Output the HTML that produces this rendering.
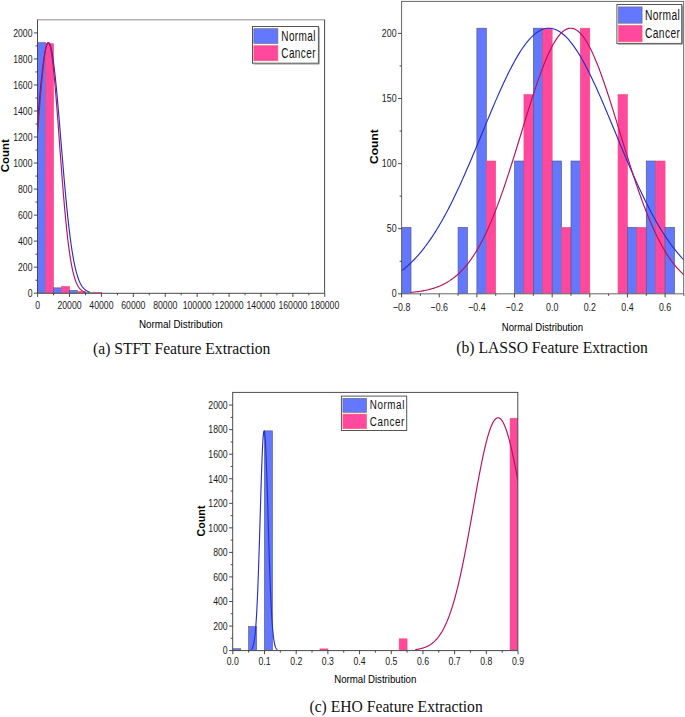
<!DOCTYPE html>
<html><head><meta charset="utf-8"><title>Feature Extraction Histograms</title>
<style>html,body{margin:0;padding:0;background:#fff}svg{display:block}</style></head>
<body><svg width="685" height="717" viewBox="0 0 685 717">
<rect width="685" height="717" fill="#fff"/>
<clipPath id="cpa"><rect x="37.5" y="19.8" width="287.1" height="273.5"/></clipPath>
<g clip-path="url(#cpa)">
<rect x="37.6" y="42.66" width="7.98" height="250.54" fill="#6378FF" stroke="#4a4f78" stroke-width="0.6"/>
<rect x="45.58" y="43.7" width="7.98" height="249.5" fill="#FF489E" stroke="#f0506a" stroke-width="0.6"/>
<rect x="53.55" y="287.86" width="7.98" height="5.34" fill="#6378FF" stroke="#4a4f78" stroke-width="0.6"/>
<rect x="61.53" y="286.43" width="7.98" height="6.77" fill="#FF489E" stroke="#f0506a" stroke-width="0.6"/>
<rect x="69.51" y="290.6" width="7.98" height="2.6" fill="#6378FF" stroke="#4a4f78" stroke-width="0.6"/>
<rect x="77.49" y="291.38" width="7.98" height="1.82" fill="#FF489E" stroke="#f0506a" stroke-width="0.6"/>
<rect x="85.47" y="292.81" width="7.98" height="0.39" fill="#6378FF" stroke="#4a4f78" stroke-width="0.6"/>
<rect x="93.44" y="292.29" width="7.98" height="0.91" fill="#FF489E" stroke="#f0506a" stroke-width="0.6"/>
<polyline points="37.6,121.04 37.82,118.46 38.03,115.89 38.25,113.34 38.47,110.81 38.69,108.3 38.9,105.81 39.12,103.34 39.34,100.9 39.56,98.48 39.77,96.1 39.99,93.75 40.21,91.42 40.43,89.14 40.64,86.89 40.86,84.67 41.08,82.5 41.3,80.37 41.51,78.28 41.73,76.24 41.95,74.24 42.17,72.29 42.38,70.4 42.6,68.55 42.82,66.75 43.03,65.01 43.25,63.33 43.47,61.7 43.69,60.14 43.9,58.63 44.12,57.18 44.34,55.8 44.56,54.48 44.77,53.22 44.99,52.03 45.21,50.91 45.43,49.86 45.64,48.87 45.86,47.96 46.08,47.11 46.3,46.34 46.51,45.64 46.73,45.01 46.95,44.46 47.17,43.98 47.38,43.57 47.6,43.24 47.82,42.98 48.03,42.8 48.25,42.69 48.47,42.66 48.69,42.71 48.9,42.83 49.12,43.02 49.34,43.29 49.56,43.64 49.77,44.06 49.99,44.55 50.21,45.12 50.43,45.76 50.64,46.48 50.86,47.26 51.08,48.12 51.3,49.05 51.51,50.04 51.73,51.11 51.95,52.25 52.16,53.45 52.38,54.71 52.6,56.05 52.82,57.44 53.03,58.9 53.25,60.42 53.47,62 53.69,63.63 53.9,65.33 54.12,67.08 54.34,68.88 54.56,70.74 54.77,72.65 54.99,74.61 55.21,76.61 55.43,78.66 55.64,80.76 55.86,82.9 56.08,85.08 56.3,87.3 56.51,89.55 56.73,91.85 56.95,94.18 57.16,96.53 57.38,98.93 57.6,101.34 57.82,103.79 58.03,106.26 58.25,108.76 58.47,111.27 58.69,113.81 58.9,116.36 59.12,118.93 59.34,121.51 59.56,124.11 59.77,126.72 59.99,129.34 60.21,131.96 60.43,134.59 60.64,137.22 60.86,139.86 61.08,142.5 61.3,145.14 61.51,147.77 61.73,150.4 61.95,153.03 62.16,155.64 62.38,158.25 62.6,160.85 62.82,163.44 63.03,166.02 63.25,168.58 63.47,171.13 63.69,173.67 63.9,176.18 64.12,178.68 64.34,181.15 64.56,183.61 64.77,186.05 64.99,188.46 65.21,190.85 65.43,193.21 65.64,195.55 65.86,197.87 66.08,200.15 66.3,202.41 66.51,204.64 66.73,206.85 66.95,209.02 67.16,211.16 67.38,213.27 67.6,215.35 67.82,217.4 68.03,219.42 68.25,221.41 68.47,223.36 68.69,225.28 68.9,227.17 69.12,229.03 69.34,230.85 69.56,232.64 69.77,234.39 69.99,236.11 70.21,237.8 70.43,239.45 70.64,241.07 70.86,242.66 71.08,244.21 71.29,245.73 71.51,247.22 71.73,248.67 71.95,250.09 72.16,251.48 72.38,252.83 72.6,254.16 72.82,255.45 73.03,256.71 73.25,257.93 73.47,259.13 73.69,260.3 73.9,261.43 74.12,262.54 74.34,263.61 74.56,264.66 74.77,265.68 74.99,266.67 75.21,267.63 75.43,268.57 75.64,269.47 75.86,270.35 76.08,271.21 76.29,272.04 76.51,272.84 76.73,273.62 76.95,274.38 77.16,275.11 77.38,275.82 77.6,276.5 77.82,277.17 78.03,277.81 78.25,278.43 78.47,279.03 78.69,279.61 78.9,280.17 79.12,280.71 79.34,281.23 79.56,281.73 79.77,282.22 79.99,282.69 80.21,283.14 80.43,283.57 80.64,283.99 80.86,284.39 81.08,284.78 81.29,285.16 81.51,285.51 81.73,285.86 81.95,286.19 82.16,286.51 82.38,286.82 82.6,287.11 82.82,287.39 83.03,287.66 83.25,287.92 83.47,288.17 83.69,288.41 83.9,288.64 84.12,288.86 84.34,289.07 84.56,289.27 84.77,289.46 84.99,289.65 85.21,289.82 85.43,289.99 85.64,290.15 85.86,290.31 86.08,290.45 86.29,290.59 86.51,290.73 86.73,290.85 86.95,290.98 87.16,291.09 87.38,291.2 87.6,291.31 87.82,291.41 88.03,291.5 88.25,291.59 88.47,291.68 88.69,291.76 88.9,291.84 89.12,291.91 89.34,291.99 89.56,292.05 89.77,292.12" fill="none" stroke="#2630C8" stroke-width="1.15" stroke-linejoin="round"/>
<polyline points="37.6,133.65 37.8,130.96 38,128.28 38.19,125.61 38.39,122.95 38.59,120.3 38.79,117.67 38.99,115.05 39.18,112.45 39.38,109.87 39.58,107.31 39.78,104.78 39.98,102.27 40.18,99.78 40.37,97.33 40.57,94.91 40.77,92.52 40.97,90.17 41.17,87.85 41.36,85.57 41.56,83.34 41.76,81.14 41.96,78.99 42.16,76.89 42.35,74.83 42.55,72.83 42.75,70.87 42.95,68.97 43.15,67.13 43.35,65.34 43.54,63.61 43.74,61.93 43.94,60.32 44.14,58.78 44.34,57.29 44.53,55.87 44.73,54.52 44.93,53.24 45.13,52.02 45.33,50.88 45.52,49.8 45.72,48.8 45.92,47.87 46.12,47.02 46.32,46.24 46.51,45.53 46.71,44.9 46.91,44.35 47.11,43.88 47.31,43.48 47.51,43.16 47.7,42.92 47.9,42.76 48.1,42.67 48.3,42.67 48.5,42.74 48.69,42.9 48.89,43.13 49.09,43.44 49.29,43.83 49.49,44.29 49.68,44.84 49.88,45.46 50.08,46.15 50.28,46.92 50.48,47.77 50.68,48.69 50.87,49.68 51.07,50.75 51.27,51.89 51.47,53.09 51.67,54.37 51.86,55.72 52.06,57.13 52.26,58.6 52.46,60.14 52.66,61.75 52.85,63.41 53.05,65.14 53.25,66.92 53.45,68.76 53.65,70.65 53.84,72.6 54.04,74.6 54.24,76.65 54.44,78.75 54.64,80.89 54.84,83.08 55.03,85.32 55.23,87.59 55.43,89.9 55.63,92.25 55.83,94.63 56.02,97.05 56.22,99.5 56.42,101.98 56.62,104.49 56.82,107.02 57.01,109.58 57.21,112.16 57.41,114.75 57.61,117.37 57.81,120 58.01,122.65 58.2,125.31 58.4,127.98 58.6,130.66 58.8,133.34 59,136.03 59.19,138.73 59.39,141.42 59.59,144.12 59.79,146.81 59.99,149.5 60.18,152.18 60.38,154.86 60.58,157.53 60.78,160.19 60.98,162.84 61.17,165.48 61.37,168.1 61.57,170.71 61.77,173.3 61.97,175.87 62.17,178.43 62.36,180.96 62.56,183.47 62.76,185.96 62.96,188.43 63.16,190.87 63.35,193.29 63.55,195.68 63.75,198.04 63.95,200.37 64.15,202.68 64.34,204.95 64.54,207.2 64.74,209.42 64.94,211.6 65.14,213.75 65.34,215.87 65.53,217.96 65.73,220.01 65.93,222.03 66.13,224.02 66.33,225.97 66.52,227.89 66.72,229.77 66.92,231.62 67.12,233.43 67.32,235.21 67.51,236.95 67.71,238.66 67.91,240.33 68.11,241.96 68.31,243.57 68.5,245.13 68.7,246.66 68.9,248.16 69.1,249.62 69.3,251.05 69.5,252.45 69.69,253.81 69.89,255.14 70.09,256.43 70.29,257.69 70.49,258.92 70.68,260.12 70.88,261.28 71.08,262.42 71.28,263.52 71.48,264.59 71.67,265.63 71.87,266.65 72.07,267.63 72.27,268.58 72.47,269.51 72.67,270.41 72.86,271.28 73.06,272.13 73.26,272.94 73.46,273.74 73.66,274.51 73.85,275.25 74.05,275.97 74.25,276.66 74.45,277.34 74.65,277.99 74.84,278.61 75.04,279.22 75.24,279.81 75.44,280.37 75.64,280.92 75.83,281.44 76.03,281.95 76.23,282.44 76.43,282.91 76.63,283.36 76.83,283.79 77.02,284.21 77.22,284.62 77.42,285 77.62,285.38 77.82,285.74 78.01,286.08 78.21,286.41 78.41,286.73 78.61,287.03 78.81,287.32 79,287.6 79.2,287.87 79.4,288.13 79.6,288.37 79.8,288.61 80,288.83 80.19,289.05 80.39,289.26 80.59,289.45 80.79,289.64 80.99,289.82 81.18,289.99 81.38,290.16 81.58,290.31 81.78,290.46 81.98,290.61 82.17,290.74 82.37,290.87 82.57,290.99 82.77,291.11 82.97,291.22 83.16,291.33 83.36,291.43 83.56,291.53 83.76,291.62 83.96,291.71 84.16,291.79 84.35,291.87 84.55,291.94 84.75,292.01 84.95,292.08 85.15,292.14" fill="none" stroke="#B8105F" stroke-width="1.15" stroke-linejoin="round"/>
</g>
<path d="M37 19.8H325.1" stroke="#8c8c8c" stroke-width="1" fill="none"/>
<path d="M324.6 19.8V293.3H37.5V19.8" stroke="#4a4a4a" stroke-width="1" fill="none"/>
<path d="M37.6 293.3v3.6M69.51 293.3v3.6M101.42 293.3v3.6M133.33 293.3v3.6M165.24 293.3v3.6M197.15 293.3v3.6M229.06 293.3v3.6M260.97 293.3v3.6M292.88 293.3v3.6M324.79 293.3v3.6M53.55 293.3v2M85.47 293.3v2M117.38 293.3v2M149.28 293.3v2M181.19 293.3v2M213.1 293.3v2M245.01 293.3v2M276.93 293.3v2M308.84 293.3v2M37.5 293.2h-3.6M37.5 267.17h-3.6M37.5 241.14h-3.6M37.5 215.11h-3.6M37.5 189.08h-3.6M37.5 163.05h-3.6M37.5 137.02h-3.6M37.5 110.99h-3.6M37.5 84.96h-3.6M37.5 58.93h-3.6M37.5 32.9h-3.6M37.5 280.19h-2M37.5 254.16h-2M37.5 228.12h-2M37.5 202.09h-2M37.5 176.06h-2M37.5 150.03h-2M37.5 124h-2M37.5 97.97h-2M37.5 71.95h-2M37.5 45.92h-2" stroke="#333" stroke-width="0.9" fill="none"/>
<text transform="translate(37.6,309.1) scale(0.775,1)" font-family="'Liberation Sans',Arial,sans-serif" font-size="11.2" font-weight="normal" text-anchor="middle" fill="#1a1a1a">0</text>
<text transform="translate(69.51,309.1) scale(0.775,1)" font-family="'Liberation Sans',Arial,sans-serif" font-size="11.2" font-weight="normal" text-anchor="middle" fill="#1a1a1a">20000</text>
<text transform="translate(101.42,309.1) scale(0.775,1)" font-family="'Liberation Sans',Arial,sans-serif" font-size="11.2" font-weight="normal" text-anchor="middle" fill="#1a1a1a">40000</text>
<text transform="translate(133.33,309.1) scale(0.775,1)" font-family="'Liberation Sans',Arial,sans-serif" font-size="11.2" font-weight="normal" text-anchor="middle" fill="#1a1a1a">60000</text>
<text transform="translate(165.24,309.1) scale(0.775,1)" font-family="'Liberation Sans',Arial,sans-serif" font-size="11.2" font-weight="normal" text-anchor="middle" fill="#1a1a1a">80000</text>
<text transform="translate(197.15,309.1) scale(0.775,1)" font-family="'Liberation Sans',Arial,sans-serif" font-size="11.2" font-weight="normal" text-anchor="middle" fill="#1a1a1a">100000</text>
<text transform="translate(229.06,309.1) scale(0.775,1)" font-family="'Liberation Sans',Arial,sans-serif" font-size="11.2" font-weight="normal" text-anchor="middle" fill="#1a1a1a">120000</text>
<text transform="translate(260.97,309.1) scale(0.775,1)" font-family="'Liberation Sans',Arial,sans-serif" font-size="11.2" font-weight="normal" text-anchor="middle" fill="#1a1a1a">140000</text>
<text transform="translate(292.88,309.1) scale(0.775,1)" font-family="'Liberation Sans',Arial,sans-serif" font-size="11.2" font-weight="normal" text-anchor="middle" fill="#1a1a1a">160000</text>
<text transform="translate(324.79,309.1) scale(0.775,1)" font-family="'Liberation Sans',Arial,sans-serif" font-size="11.2" font-weight="normal" text-anchor="middle" fill="#1a1a1a">180000</text>
<text transform="translate(32.5,297.1) scale(0.775,1)" font-family="'Liberation Sans',Arial,sans-serif" font-size="11.2" font-weight="normal" text-anchor="end" fill="#1a1a1a">0</text>
<text transform="translate(32.5,271.07) scale(0.775,1)" font-family="'Liberation Sans',Arial,sans-serif" font-size="11.2" font-weight="normal" text-anchor="end" fill="#1a1a1a">200</text>
<text transform="translate(32.5,245.04) scale(0.775,1)" font-family="'Liberation Sans',Arial,sans-serif" font-size="11.2" font-weight="normal" text-anchor="end" fill="#1a1a1a">400</text>
<text transform="translate(32.5,219.01) scale(0.775,1)" font-family="'Liberation Sans',Arial,sans-serif" font-size="11.2" font-weight="normal" text-anchor="end" fill="#1a1a1a">600</text>
<text transform="translate(32.5,192.98) scale(0.775,1)" font-family="'Liberation Sans',Arial,sans-serif" font-size="11.2" font-weight="normal" text-anchor="end" fill="#1a1a1a">800</text>
<text transform="translate(32.5,166.95) scale(0.775,1)" font-family="'Liberation Sans',Arial,sans-serif" font-size="11.2" font-weight="normal" text-anchor="end" fill="#1a1a1a">1000</text>
<text transform="translate(32.5,140.92) scale(0.775,1)" font-family="'Liberation Sans',Arial,sans-serif" font-size="11.2" font-weight="normal" text-anchor="end" fill="#1a1a1a">1200</text>
<text transform="translate(32.5,114.89) scale(0.775,1)" font-family="'Liberation Sans',Arial,sans-serif" font-size="11.2" font-weight="normal" text-anchor="end" fill="#1a1a1a">1400</text>
<text transform="translate(32.5,88.86) scale(0.775,1)" font-family="'Liberation Sans',Arial,sans-serif" font-size="11.2" font-weight="normal" text-anchor="end" fill="#1a1a1a">1600</text>
<text transform="translate(32.5,62.83) scale(0.775,1)" font-family="'Liberation Sans',Arial,sans-serif" font-size="11.2" font-weight="normal" text-anchor="end" fill="#1a1a1a">1800</text>
<text transform="translate(32.5,36.8) scale(0.775,1)" font-family="'Liberation Sans',Arial,sans-serif" font-size="11.2" font-weight="normal" text-anchor="end" fill="#1a1a1a">2000</text>
<text transform="translate(180.85,328.2) scale(0.873,1)" font-family="'Liberation Sans',Arial,sans-serif" font-size="11.3" font-weight="normal" text-anchor="middle" fill="#000">Normal Distribution</text>
<text transform="translate(9,155.8) rotate(-90) scale(1.09,1)" font-family="'Liberation Sans',Arial,sans-serif" font-size="10.5" font-weight="bold" text-anchor="middle" fill="#000">Count</text>
<text transform="translate(181.75,354)" font-family="'Liberation Serif','Times New Roman',serif" font-size="15.65" font-weight="normal" text-anchor="middle" fill="#111">(a) STFT Feature Extraction</text>
<rect x="252.5" y="26.5" width="65.9" height="36.7" fill="#fff" stroke="#555" stroke-width="1"/>
<path d="M319.2 27.5V64H253.5" stroke="#777" stroke-width="0.8" fill="none"/>
<rect x="253.8" y="28.7" width="24.1" height="14.8" fill="#6378FF" stroke="#667" stroke-width="0.6"/>
<rect x="253.8" y="45.6" width="24.1" height="15.2" fill="#FF489E" stroke="#f66" stroke-width="0.6"/>
<text transform="translate(281.3,40.7) scale(0.715,1)" font-family="'Liberation Sans',Arial,sans-serif" font-size="14" font-weight="normal" text-anchor="start" fill="#111" letter-spacing="0.55">Normal</text>
<text transform="translate(281.3,57.5) scale(0.715,1)" font-family="'Liberation Sans',Arial,sans-serif" font-size="14" font-weight="normal" text-anchor="start" fill="#111" letter-spacing="0.55">Cancer</text>
<clipPath id="cpb"><rect x="401.6" y="1.4" width="282.1" height="292.4"/></clipPath>
<g clip-path="url(#cpb)">
<rect x="401.6" y="227.4" width="9.41" height="66.4" fill="#6378FF" stroke="#4a4f78" stroke-width="0.6"/>
<rect x="458.06" y="227.4" width="9.41" height="66.4" fill="#6378FF" stroke="#4a4f78" stroke-width="0.6"/>
<rect x="476.88" y="28.19" width="9.41" height="265.61" fill="#6378FF" stroke="#4a4f78" stroke-width="0.6"/>
<rect x="486.29" y="161" width="9.41" height="132.8" fill="#FF489E" stroke="#f0506a" stroke-width="0.6"/>
<rect x="514.52" y="161" width="9.41" height="132.8" fill="#6378FF" stroke="#4a4f78" stroke-width="0.6"/>
<rect x="523.93" y="94.59" width="9.41" height="199.21" fill="#FF489E" stroke="#f0506a" stroke-width="0.6"/>
<rect x="533.34" y="28.19" width="9.41" height="265.61" fill="#6378FF" stroke="#4a4f78" stroke-width="0.6"/>
<rect x="542.75" y="28.19" width="9.41" height="265.61" fill="#FF489E" stroke="#f0506a" stroke-width="0.6"/>
<rect x="552.16" y="161" width="9.41" height="132.8" fill="#6378FF" stroke="#4a4f78" stroke-width="0.6"/>
<rect x="561.57" y="227.4" width="9.41" height="66.4" fill="#FF489E" stroke="#f0506a" stroke-width="0.6"/>
<rect x="570.98" y="161" width="9.41" height="132.8" fill="#6378FF" stroke="#4a4f78" stroke-width="0.6"/>
<rect x="580.39" y="28.19" width="9.41" height="265.61" fill="#FF489E" stroke="#f0506a" stroke-width="0.6"/>
<rect x="618.03" y="94.59" width="9.41" height="199.21" fill="#FF489E" stroke="#f0506a" stroke-width="0.6"/>
<rect x="627.44" y="227.4" width="9.41" height="66.4" fill="#6378FF" stroke="#4a4f78" stroke-width="0.6"/>
<rect x="636.85" y="227.4" width="9.41" height="66.4" fill="#FF489E" stroke="#f0506a" stroke-width="0.6"/>
<rect x="646.26" y="161" width="9.41" height="132.8" fill="#6378FF" stroke="#4a4f78" stroke-width="0.6"/>
<rect x="655.67" y="161" width="9.41" height="132.8" fill="#FF489E" stroke="#f0506a" stroke-width="0.6"/>
<rect x="665.08" y="227.4" width="9.41" height="66.4" fill="#6378FF" stroke="#4a4f78" stroke-width="0.6"/>
<polyline points="401.6,270.85 402.79,269.92 403.98,268.97 405.18,267.99 406.37,266.97 407.56,265.93 408.75,264.85 409.94,263.74 411.14,262.6 412.33,261.43 413.52,260.23 414.71,258.99 415.9,257.71 417.1,256.4 418.29,255.06 419.48,253.68 420.67,252.26 421.86,250.81 423.05,249.33 424.25,247.8 425.44,246.24 426.63,244.64 427.82,243 429.01,241.33 430.21,239.62 431.4,237.87 432.59,236.08 433.78,234.26 434.97,232.39 436.17,230.49 437.36,228.55 438.55,226.58 439.74,224.56 440.93,222.51 442.13,220.42 443.32,218.29 444.51,216.13 445.7,213.93 446.89,211.7 448.09,209.42 449.28,207.12 450.47,204.78 451.66,202.4 452.85,200 454.05,197.55 455.24,195.08 456.43,192.58 457.62,190.05 458.81,187.48 460,184.89 461.2,182.28 462.39,179.63 463.58,176.96 464.77,174.27 465.96,171.55 467.16,168.81 468.35,166.05 469.54,163.28 470.73,160.48 471.92,157.67 473.12,154.84 474.31,152 475.5,149.15 476.69,146.29 477.88,143.42 479.08,140.55 480.27,137.67 481.46,134.78 482.65,131.9 483.84,129.01 485.04,126.13 486.23,123.25 487.42,120.38 488.61,117.51 489.8,114.66 491,111.82 492.19,108.99 493.38,106.18 494.57,103.39 495.76,100.62 496.95,97.87 498.15,95.14 499.34,92.45 500.53,89.78 501.72,87.14 502.91,84.53 504.11,81.96 505.3,79.43 506.49,76.94 507.68,74.48 508.87,72.07 510.07,69.71 511.26,67.39 512.45,65.13 513.64,62.91 514.83,60.75 516.03,58.64 517.22,56.59 518.41,54.6 519.6,52.67 520.79,50.8 521.99,49 523.18,47.26 524.37,45.59 525.56,43.99 526.75,42.46 527.94,41 529.14,39.61 530.33,38.3 531.52,37.06 532.71,35.9 533.9,34.82 535.1,33.82 536.29,32.89 537.48,32.05 538.67,31.29 539.86,30.61 541.06,30.02 542.25,29.5 543.44,29.07 544.63,28.73 545.82,28.47 547.02,28.29 548.21,28.21 549.4,28.2 550.59,28.28 551.78,28.45 552.98,28.7 554.17,29.03 555.36,29.45 556.55,29.96 557.74,30.54 558.94,31.21 560.13,31.97 561.32,32.8 562.51,33.72 563.7,34.71 564.89,35.79 566.09,36.94 567.28,38.17 568.47,39.47 569.66,40.85 570.85,42.3 572.05,43.83 573.24,45.42 574.43,47.08 575.62,48.81 576.81,50.61 578.01,52.47 579.2,54.4 580.39,56.38 581.58,58.42 582.77,60.53 583.97,62.68 585.16,64.89 586.35,67.15 587.54,69.46 588.73,71.82 589.93,74.23 591.12,76.67 592.31,79.16 593.5,81.69 594.69,84.26 595.89,86.86 597.08,89.5 598.27,92.16 599.46,94.86 600.65,97.58 601.84,100.33 603.04,103.1 604.23,105.89 605.42,108.7 606.61,111.52 607.8,114.36 609,117.21 610.19,120.08 611.38,122.95 612.57,125.83 613.76,128.71 614.96,131.59 616.15,134.48 617.34,137.36 618.53,140.24 619.72,143.12 620.92,145.99 622.11,148.85 623.3,151.7 624.49,154.54 625.68,157.37 626.88,160.19 628.07,162.98 629.26,165.76 630.45,168.52 631.64,171.26 632.84,173.98 634.03,176.68 635.22,179.35 636.41,182 637.6,184.62 638.79,187.21 639.99,189.78 641.18,192.31 642.37,194.82 643.56,197.3 644.75,199.74 645.95,202.15 647.14,204.53 648.33,206.87 649.52,209.18 650.71,211.46 651.91,213.7 653.1,215.9 654.29,218.07 655.48,220.2 656.67,222.29 657.87,224.35 659.06,226.37 660.25,228.35 661.44,230.29 662.63,232.2 663.83,234.06 665.02,235.89 666.21,237.68 667.4,239.44 668.59,241.15 669.79,242.83 670.98,244.47 672.17,246.07 673.36,247.64 674.55,249.17 675.74,250.66 676.94,252.11 678.13,253.53 679.32,254.92 680.51,256.26 681.7,257.58 682.9,258.85 684.09,260.1 685.28,261.31 686.47,262.48 687.66,263.63" fill="none" stroke="#2630C8" stroke-width="1.15" stroke-linejoin="round"/>
<polyline points="411.01,292.4 412.16,292.29 413.32,292.17 414.47,292.04 415.62,291.91 416.77,291.76 417.93,291.61 419.08,291.45 420.23,291.27 421.38,291.09 422.54,290.89 423.69,290.68 424.84,290.45 426,290.21 427.15,289.96 428.3,289.69 429.45,289.41 430.61,289.1 431.76,288.78 432.91,288.44 434.06,288.08 435.22,287.7 436.37,287.3 437.52,286.87 438.68,286.42 439.83,285.95 440.98,285.45 442.13,284.92 443.29,284.36 444.44,283.78 445.59,283.16 446.74,282.52 447.9,281.84 449.05,281.12 450.2,280.38 451.36,279.59 452.51,278.77 453.66,277.9 454.81,277 455.97,276.06 457.12,275.07 458.27,274.04 459.42,272.97 460.58,271.84 461.73,270.67 462.88,269.45 464.04,268.18 465.19,266.86 466.34,265.49 467.49,264.06 468.65,262.58 469.8,261.04 470.95,259.45 472.1,257.79 473.26,256.08 474.41,254.31 475.56,252.47 476.72,250.58 477.87,248.62 479.02,246.6 480.17,244.52 481.33,242.37 482.48,240.16 483.63,237.89 484.78,235.55 485.94,233.14 487.09,230.67 488.24,228.14 489.4,225.54 490.55,222.88 491.7,220.15 492.85,217.36 494.01,214.51 495.16,211.6 496.31,208.63 497.46,205.59 498.62,202.5 499.77,199.36 500.92,196.15 502.08,192.9 503.23,189.59 504.38,186.23 505.53,182.83 506.69,179.38 507.84,175.89 508.99,172.36 510.14,168.79 511.3,165.18 512.45,161.54 513.6,157.88 514.76,154.19 515.91,150.48 517.06,146.75 518.21,143 519.37,139.25 520.52,135.48 521.67,131.72 522.82,127.95 523.98,124.19 525.13,120.44 526.28,116.71 527.44,112.99 528.59,109.29 529.74,105.63 530.89,101.99 532.05,98.39 533.2,94.83 534.35,91.32 535.5,87.86 536.66,84.45 537.81,81.11 538.96,77.83 540.12,74.61 541.27,71.48 542.42,68.42 543.57,65.44 544.73,62.55 545.88,59.75 547.03,57.05 548.18,54.44 549.34,51.94 550.49,49.55 551.64,47.27 552.8,45.1 553.95,43.05 555.1,41.12 556.25,39.32 557.41,37.64 558.56,36.1 559.71,34.68 560.86,33.4 562.02,32.26 563.17,31.25 564.32,30.39 565.48,29.67 566.63,29.09 567.78,28.65 568.93,28.36 570.09,28.21 571.24,28.21 572.39,28.35 573.54,28.64 574.7,29.07 575.85,29.65 577,30.37 578.16,31.23 579.31,32.23 580.46,33.37 581.61,34.64 582.77,36.05 583.92,37.6 585.07,39.27 586.22,41.07 587.38,42.99 588.53,45.04 589.68,47.2 590.84,49.48 591.99,51.87 593.14,54.37 594.29,56.97 595.45,59.67 596.6,62.47 597.75,65.35 598.9,68.33 600.06,71.39 601.21,74.52 602.36,77.73 603.52,81.01 604.67,84.36 605.82,87.76 606.97,91.22 608.13,94.73 609.28,98.29 610.43,101.89 611.58,105.52 612.74,109.19 613.89,112.88 615.04,116.6 616.2,120.34 617.35,124.09 618.5,127.84 619.65,131.61 620.81,135.38 621.96,139.14 623.11,142.89 624.26,146.64 625.42,150.37 626.57,154.08 627.72,157.77 628.88,161.44 630.03,165.08 631.18,168.68 632.33,172.25 633.49,175.79 634.64,179.28 635.79,182.73 636.94,186.14 638.1,189.5 639.25,192.81 640.4,196.06 641.56,199.27 642.71,202.42 643.86,205.51 645.01,208.54 646.17,211.52 647.32,214.43 648.47,217.28 649.62,220.08 650.78,222.8 651.93,225.47 653.08,228.07 654.23,230.6 655.39,233.07 656.54,235.48 657.69,237.82 658.85,240.1 660,242.31 661.15,244.46 662.3,246.55 663.46,248.57 664.61,250.52 665.76,252.42 666.91,254.26 668.07,256.03 669.22,257.74 670.37,259.4 671.53,261 672.68,262.54 673.83,264.02 674.98,265.45 676.14,266.82 677.29,268.15 678.44,269.42 679.59,270.64 680.75,271.81 681.9,272.93 683.05,274.01 684.21,275.04 685.36,276.03 686.51,276.98 687.66,277.88" fill="none" stroke="#B8105F" stroke-width="1.15" stroke-linejoin="round"/>
</g>
<path d="M401.1 1.4H684.2" stroke="#666" stroke-width="1" fill="none"/>
<path d="M683.7 1.4V293.8H401.6V1.4" stroke="#666" stroke-width="1" fill="none"/>
<path d="M401.6 293.8v3.6M439.24 293.8v3.6M476.88 293.8v3.6M514.52 293.8v3.6M552.16 293.8v3.6M589.8 293.8v3.6M627.44 293.8v3.6M665.08 293.8v3.6M420.42 293.8v2M458.06 293.8v2M495.7 293.8v2M533.34 293.8v2M570.98 293.8v2M608.62 293.8v2M646.26 293.8v2M683.9 293.8v2M401.6 293.8h-3.6M401.6 228.7h-3.6M401.6 163.6h-3.6M401.6 98.5h-3.6M401.6 33.4h-3.6M401.6 261.25h-2M401.6 196.15h-2M401.6 131.05h-2M401.6 65.95h-2" stroke="#333" stroke-width="0.9" fill="none"/>
<text transform="translate(401.6,311) scale(0.783,1)" font-family="'Liberation Sans',Arial,sans-serif" font-size="11.3" font-weight="normal" text-anchor="middle" fill="#1a1a1a">−0.8</text>
<text transform="translate(439.24,311) scale(0.783,1)" font-family="'Liberation Sans',Arial,sans-serif" font-size="11.3" font-weight="normal" text-anchor="middle" fill="#1a1a1a">−0.6</text>
<text transform="translate(476.88,311) scale(0.783,1)" font-family="'Liberation Sans',Arial,sans-serif" font-size="11.3" font-weight="normal" text-anchor="middle" fill="#1a1a1a">−0.4</text>
<text transform="translate(514.52,311) scale(0.783,1)" font-family="'Liberation Sans',Arial,sans-serif" font-size="11.3" font-weight="normal" text-anchor="middle" fill="#1a1a1a">−0.2</text>
<text transform="translate(552.16,311) scale(0.783,1)" font-family="'Liberation Sans',Arial,sans-serif" font-size="11.3" font-weight="normal" text-anchor="middle" fill="#1a1a1a">0.0</text>
<text transform="translate(589.8,311) scale(0.783,1)" font-family="'Liberation Sans',Arial,sans-serif" font-size="11.3" font-weight="normal" text-anchor="middle" fill="#1a1a1a">0.2</text>
<text transform="translate(627.44,311) scale(0.783,1)" font-family="'Liberation Sans',Arial,sans-serif" font-size="11.3" font-weight="normal" text-anchor="middle" fill="#1a1a1a">0.4</text>
<text transform="translate(665.08,311) scale(0.783,1)" font-family="'Liberation Sans',Arial,sans-serif" font-size="11.3" font-weight="normal" text-anchor="middle" fill="#1a1a1a">0.6</text>
<text transform="translate(396.6,297.4) scale(0.783,1)" font-family="'Liberation Sans',Arial,sans-serif" font-size="11.3" font-weight="normal" text-anchor="end" fill="#1a1a1a">0</text>
<text transform="translate(396.6,232.3) scale(0.783,1)" font-family="'Liberation Sans',Arial,sans-serif" font-size="11.3" font-weight="normal" text-anchor="end" fill="#1a1a1a">50</text>
<text transform="translate(396.6,167.2) scale(0.783,1)" font-family="'Liberation Sans',Arial,sans-serif" font-size="11.3" font-weight="normal" text-anchor="end" fill="#1a1a1a">100</text>
<text transform="translate(396.6,102.1) scale(0.783,1)" font-family="'Liberation Sans',Arial,sans-serif" font-size="11.3" font-weight="normal" text-anchor="end" fill="#1a1a1a">150</text>
<text transform="translate(396.6,37) scale(0.783,1)" font-family="'Liberation Sans',Arial,sans-serif" font-size="11.3" font-weight="normal" text-anchor="end" fill="#1a1a1a">200</text>
<text transform="translate(542.4,330.6) scale(0.845,1)" font-family="'Liberation Sans',Arial,sans-serif" font-size="11.3" font-weight="normal" text-anchor="middle" fill="#000">Normal Distribution</text>
<text transform="translate(378.2,146.6) rotate(-90) scale(1.147,1)" font-family="'Liberation Sans',Arial,sans-serif" font-size="10.5" font-weight="bold" text-anchor="middle" fill="#000">Count</text>
<text transform="translate(552.05,353.4)" font-family="'Liberation Serif','Times New Roman',serif" font-size="15.65" font-weight="normal" text-anchor="middle" fill="#111">(b) LASSO Feature Extraction</text>
<rect x="616.9" y="4.5" width="64.8" height="38.9" fill="#fff" stroke="#555" stroke-width="1"/>
<path d="M682.5 5.5V44.2H617.9" stroke="#777" stroke-width="0.8" fill="none"/>
<rect x="618.4" y="6.9" width="23.7" height="16.3" fill="#6378FF" stroke="#667" stroke-width="0.6"/>
<rect x="618.4" y="25.4" width="23.7" height="16.4" fill="#FF489E" stroke="#f66" stroke-width="0.6"/>
<text transform="translate(645,19.8) scale(0.7,1)" font-family="'Liberation Sans',Arial,sans-serif" font-size="14.7" font-weight="normal" text-anchor="start" fill="#111" letter-spacing="0.5">Normal</text>
<text transform="translate(645,38.2) scale(0.7,1)" font-family="'Liberation Sans',Arial,sans-serif" font-size="14.7" font-weight="normal" text-anchor="start" fill="#111" letter-spacing="0.5">Cancer</text>
<clipPath id="cpc"><rect x="232.7" y="392.4" width="285.1" height="258.2"/></clipPath>
<g clip-path="url(#cpc)">
<rect x="232.8" y="648.76" width="7.92" height="1.84" fill="#6378FF" stroke="#4a4f78" stroke-width="0.6"/>
<rect x="248.65" y="626.66" width="7.92" height="23.94" fill="#6378FF" stroke="#4a4f78" stroke-width="0.6"/>
<rect x="264.49" y="430.88" width="7.92" height="219.72" fill="#6378FF" stroke="#4a4f78" stroke-width="0.6"/>
<rect x="319.95" y="648.88" width="7.92" height="1.72" fill="#FF489E" stroke="#f0506a" stroke-width="0.6"/>
<rect x="399.17" y="638.82" width="7.92" height="11.78" fill="#FF489E" stroke="#f0506a" stroke-width="0.6"/>
<rect x="510.09" y="418.23" width="7.92" height="232.37" fill="#FF489E" stroke="#f0506a" stroke-width="0.6"/>
<polyline points="251.18,649.53 251.29,649.43 251.4,649.32 251.51,649.2 251.62,649.08 251.73,648.94 251.84,648.79 251.95,648.63 252.06,648.45 252.17,648.27 252.28,648.06 252.39,647.85 252.5,647.61 252.6,647.36 252.71,647.09 252.82,646.8 252.93,646.49 253.04,646.16 253.15,645.81 253.26,645.43 253.37,645.02 253.48,644.59 253.59,644.13 253.7,643.64 253.81,643.12 253.92,642.56 254.03,641.97 254.14,641.35 254.25,640.69 254.36,639.98 254.47,639.24 254.58,638.45 254.69,637.62 254.8,636.74 254.91,635.82 255.02,634.84 255.13,633.82 255.24,632.74 255.34,631.6 255.45,630.41 255.56,629.16 255.67,627.85 255.78,626.48 255.89,625.04 256,623.54 256.11,621.98 256.22,620.35 256.33,618.64 256.44,616.87 256.55,615.03 256.66,613.12 256.77,611.13 256.88,609.07 256.99,606.93 257.1,604.73 257.21,602.44 257.32,600.08 257.43,597.65 257.54,595.14 257.65,592.56 257.76,589.9 257.87,587.17 257.98,584.37 258.08,581.49 258.19,578.55 258.3,575.54 258.41,572.46 258.52,569.32 258.63,566.12 258.74,562.86 258.85,559.55 258.96,556.18 259.07,552.76 259.18,549.29 259.29,545.78 259.4,542.24 259.51,538.65 259.62,535.04 259.73,531.41 259.84,527.75 259.95,524.08 260.06,520.4 260.17,516.71 260.28,513.02 260.39,509.35 260.5,505.68 260.61,502.03 260.71,498.41 260.82,494.82 260.93,491.26 261.04,487.75 261.15,484.29 261.26,480.88 261.37,477.54 261.48,474.27 261.59,471.07 261.7,467.96 261.81,464.93 261.92,462 262.03,459.16 262.14,456.44 262.25,453.82 262.36,451.33 262.47,448.95 262.58,446.7 262.69,444.59 262.8,442.61 262.91,440.78 263.02,439.09 263.13,437.55 263.24,436.16 263.35,434.93 263.45,433.86 263.56,432.95 263.67,432.2 263.78,431.62 263.89,431.21 264,430.96 264.11,430.88 264.22,430.97 264.33,431.22 264.44,431.65 264.55,432.24 264.66,432.99 264.77,433.91 264.88,434.99 264.99,436.23 265.1,437.62 265.21,439.17 265.32,440.86 265.43,442.71 265.54,444.69 265.65,446.81 265.76,449.06 265.87,451.44 265.98,453.95 266.09,456.57 266.19,459.3 266.3,462.14 266.41,465.07 266.52,468.11 266.63,471.22 266.74,474.43 266.85,477.7 266.96,481.05 267.07,484.45 267.18,487.92 267.29,491.43 267.4,494.99 267.51,498.58 267.62,502.21 267.73,505.86 267.84,509.52 267.95,513.2 268.06,516.89 268.17,520.57 268.28,524.26 268.39,527.93 268.5,531.58 268.61,535.22 268.72,538.83 268.82,542.41 268.93,545.95 269.04,549.46 269.15,552.92 269.26,556.34 269.37,559.71 269.48,563.02 269.59,566.28 269.7,569.48 269.81,572.61 269.92,575.69 270.03,578.69 270.14,581.63 270.25,584.5 270.36,587.3 270.47,590.03 270.58,592.68 270.69,595.26 270.8,597.77 270.91,600.2 271.02,602.55 271.13,604.83 271.24,607.04 271.35,609.17 271.46,611.23 271.56,613.21 271.67,615.12 271.78,616.96 271.89,618.73 272,620.43 272.11,622.05 272.22,623.62 272.33,625.11 272.44,626.54 272.55,627.91 272.66,629.22 272.77,630.47 272.88,631.66 272.99,632.79 273.1,633.87 273.21,634.89 273.32,635.86 273.43,636.79 273.54,637.66 273.65,638.49 273.76,639.28 273.87,640.02 273.98,640.72 274.09,641.38 274.2,642 274.3,642.59 274.41,643.14 274.52,643.67 274.63,644.15 274.74,644.61 274.85,645.04 274.96,645.45 275.07,645.83 275.18,646.18 275.29,646.51 275.4,646.82 275.51,647.11 275.62,647.38 275.73,647.63 275.84,647.86 275.95,648.07 276.06,648.28 276.17,648.46 276.28,648.64 276.39,648.8 276.5,648.95 276.61,649.08 276.72,649.21 276.83,649.33 276.93,649.44 277.04,649.54 277.15,649.63 277.26,649.71 277.37,649.79 277.48,649.86" fill="none" stroke="#2630C8" stroke-width="1.15" stroke-linejoin="round"/>
<polyline points="415.24,649.62 415.67,649.56 416.1,649.5 416.52,649.44 416.95,649.37 417.38,649.3 417.81,649.23 418.24,649.15 418.67,649.07 419.09,648.99 419.52,648.9 419.95,648.81 420.38,648.71 420.81,648.6 421.23,648.5 421.66,648.38 422.09,648.26 422.52,648.14 422.95,648.01 423.38,647.88 423.8,647.73 424.23,647.58 424.66,647.43 425.09,647.27 425.52,647.1 425.94,646.92 426.37,646.73 426.8,646.54 427.23,646.34 427.66,646.13 428.09,645.91 428.51,645.68 428.94,645.44 429.37,645.19 429.8,644.93 430.23,644.66 430.65,644.38 431.08,644.09 431.51,643.79 431.94,643.47 432.37,643.14 432.8,642.8 433.22,642.45 433.65,642.08 434.08,641.7 434.51,641.3 434.94,640.89 435.37,640.46 435.79,640.02 436.22,639.56 436.65,639.09 437.08,638.6 437.51,638.09 437.93,637.56 438.36,637.02 438.79,636.45 439.22,635.87 439.65,635.27 440.08,634.65 440.5,634.01 440.93,633.34 441.36,632.66 441.79,631.95 442.22,631.23 442.64,630.48 443.07,629.7 443.5,628.91 443.93,628.09 444.36,627.24 444.79,626.37 445.21,625.48 445.64,624.56 446.07,623.61 446.5,622.64 446.93,621.64 447.36,620.62 447.78,619.57 448.21,618.49 448.64,617.38 449.07,616.24 449.5,615.08 449.92,613.89 450.35,612.67 450.78,611.42 451.21,610.14 451.64,608.83 452.07,607.49 452.49,606.12 452.92,604.72 453.35,603.29 453.78,601.83 454.21,600.34 454.63,598.82 455.06,597.27 455.49,595.68 455.92,594.07 456.35,592.43 456.78,590.76 457.2,589.06 457.63,587.32 458.06,585.56 458.49,583.77 458.92,581.95 459.35,580.1 459.77,578.22 460.2,576.31 460.63,574.38 461.06,572.42 461.49,570.43 461.91,568.41 462.34,566.37 462.77,564.3 463.2,562.21 463.63,560.1 464.06,557.96 464.48,555.79 464.91,553.61 465.34,551.4 465.77,549.18 466.2,546.93 466.62,544.66 467.05,542.38 467.48,540.08 467.91,537.77 468.34,535.44 468.77,533.09 469.19,530.73 469.62,528.37 470.05,525.99 470.48,523.6 470.91,521.2 471.33,518.8 471.76,516.39 472.19,513.98 472.62,511.57 473.05,509.15 473.48,506.74 473.9,504.32 474.33,501.91 474.76,499.51 475.19,497.11 475.62,494.71 476.05,492.33 476.47,489.96 476.9,487.59 477.33,485.25 477.76,482.91 478.19,480.6 478.61,478.3 479.04,476.02 479.47,473.77 479.9,471.54 480.33,469.33 480.76,467.15 481.18,465 481.61,462.87 482.04,460.78 482.47,458.72 482.9,456.7 483.32,454.71 483.75,452.76 484.18,450.85 484.61,448.97 485.04,447.14 485.47,445.36 485.89,443.62 486.32,441.92 486.75,440.28 487.18,438.68 487.61,437.13 488.04,435.63 488.46,434.19 488.89,432.8 489.32,431.47 489.75,430.19 490.18,428.97 490.6,427.8 491.03,426.7 491.46,425.66 491.89,424.68 492.32,423.76 492.75,422.9 493.17,422.11 493.6,421.38 494.03,420.72 494.46,420.12 494.89,419.59 495.31,419.12 495.74,418.73 496.17,418.39 496.6,418.13 497.03,417.94 497.46,417.81 497.88,417.75 498.31,417.76 498.74,417.83 499.17,417.98 499.6,418.19 500.03,418.47 500.45,418.82 500.88,419.23 501.31,419.71 501.74,420.26 502.17,420.88 502.59,421.56 503.02,422.3 503.45,423.11 503.88,423.98 504.31,424.91 504.74,425.91 505.16,426.97 505.59,428.09 506.02,429.26 506.45,430.5 506.88,431.79 507.3,433.14 507.73,434.54 508.16,436 508.59,437.51 509.02,439.07 509.45,440.68 509.87,442.34 510.3,444.04 510.73,445.8 511.16,447.59 511.59,449.43 512.02,451.31 512.44,453.24 512.87,455.2 513.3,457.19 513.73,459.23 514.16,461.3 514.58,463.39 515.01,465.53 515.44,467.69 515.87,469.87 516.3,472.09 516.73,474.32 517.15,476.59 517.58,478.87 518.01,481.17" fill="none" stroke="#B8105F" stroke-width="1.15" stroke-linejoin="round"/>
</g>
<path d="M232.2 392.4H518.3" stroke="#4a4a4a" stroke-width="1" fill="none"/>
<path d="M517.8 392.4V650.6H232.7V392.4" stroke="#4a4a4a" stroke-width="1" fill="none"/>
<path d="M232.8 650.6v3.6M264.49 650.6v3.6M296.18 650.6v3.6M327.87 650.6v3.6M359.56 650.6v3.6M391.25 650.6v3.6M422.94 650.6v3.6M454.63 650.6v3.6M486.32 650.6v3.6M518.01 650.6v3.6M248.65 650.6v2M280.34 650.6v2M312.02 650.6v2M343.72 650.6v2M375.4 650.6v2M407.1 650.6v2M438.78 650.6v2M470.48 650.6v2M502.16 650.6v2M232.7 650.6h-3.6M232.7 626.05h-3.6M232.7 601.5h-3.6M232.7 576.95h-3.6M232.7 552.4h-3.6M232.7 527.85h-3.6M232.7 503.3h-3.6M232.7 478.75h-3.6M232.7 454.2h-3.6M232.7 429.65h-3.6M232.7 405.1h-3.6M232.7 638.33h-2M232.7 613.77h-2M232.7 589.23h-2M232.7 564.68h-2M232.7 540.12h-2M232.7 515.58h-2M232.7 491.03h-2M232.7 466.48h-2M232.7 441.93h-2M232.7 417.38h-2" stroke="#333" stroke-width="0.9" fill="none"/>
<text transform="translate(232.8,665.4) scale(0.79,1)" font-family="'Liberation Sans',Arial,sans-serif" font-size="11" font-weight="normal" text-anchor="middle" fill="#1a1a1a">0.0</text>
<text transform="translate(264.49,665.4) scale(0.79,1)" font-family="'Liberation Sans',Arial,sans-serif" font-size="11" font-weight="normal" text-anchor="middle" fill="#1a1a1a">0.1</text>
<text transform="translate(296.18,665.4) scale(0.79,1)" font-family="'Liberation Sans',Arial,sans-serif" font-size="11" font-weight="normal" text-anchor="middle" fill="#1a1a1a">0.2</text>
<text transform="translate(327.87,665.4) scale(0.79,1)" font-family="'Liberation Sans',Arial,sans-serif" font-size="11" font-weight="normal" text-anchor="middle" fill="#1a1a1a">0.3</text>
<text transform="translate(359.56,665.4) scale(0.79,1)" font-family="'Liberation Sans',Arial,sans-serif" font-size="11" font-weight="normal" text-anchor="middle" fill="#1a1a1a">0.4</text>
<text transform="translate(391.25,665.4) scale(0.79,1)" font-family="'Liberation Sans',Arial,sans-serif" font-size="11" font-weight="normal" text-anchor="middle" fill="#1a1a1a">0.5</text>
<text transform="translate(422.94,665.4) scale(0.79,1)" font-family="'Liberation Sans',Arial,sans-serif" font-size="11" font-weight="normal" text-anchor="middle" fill="#1a1a1a">0.6</text>
<text transform="translate(454.63,665.4) scale(0.79,1)" font-family="'Liberation Sans',Arial,sans-serif" font-size="11" font-weight="normal" text-anchor="middle" fill="#1a1a1a">0.7</text>
<text transform="translate(486.32,665.4) scale(0.79,1)" font-family="'Liberation Sans',Arial,sans-serif" font-size="11" font-weight="normal" text-anchor="middle" fill="#1a1a1a">0.8</text>
<text transform="translate(518.01,665.4) scale(0.79,1)" font-family="'Liberation Sans',Arial,sans-serif" font-size="11" font-weight="normal" text-anchor="middle" fill="#1a1a1a">0.9</text>
<text transform="translate(227.7,654.4) scale(0.79,1)" font-family="'Liberation Sans',Arial,sans-serif" font-size="11" font-weight="normal" text-anchor="end" fill="#1a1a1a">0</text>
<text transform="translate(227.7,629.85) scale(0.79,1)" font-family="'Liberation Sans',Arial,sans-serif" font-size="11" font-weight="normal" text-anchor="end" fill="#1a1a1a">200</text>
<text transform="translate(227.7,605.3) scale(0.79,1)" font-family="'Liberation Sans',Arial,sans-serif" font-size="11" font-weight="normal" text-anchor="end" fill="#1a1a1a">400</text>
<text transform="translate(227.7,580.75) scale(0.79,1)" font-family="'Liberation Sans',Arial,sans-serif" font-size="11" font-weight="normal" text-anchor="end" fill="#1a1a1a">600</text>
<text transform="translate(227.7,556.2) scale(0.79,1)" font-family="'Liberation Sans',Arial,sans-serif" font-size="11" font-weight="normal" text-anchor="end" fill="#1a1a1a">800</text>
<text transform="translate(227.7,531.65) scale(0.79,1)" font-family="'Liberation Sans',Arial,sans-serif" font-size="11" font-weight="normal" text-anchor="end" fill="#1a1a1a">1000</text>
<text transform="translate(227.7,507.1) scale(0.79,1)" font-family="'Liberation Sans',Arial,sans-serif" font-size="11" font-weight="normal" text-anchor="end" fill="#1a1a1a">1200</text>
<text transform="translate(227.7,482.55) scale(0.79,1)" font-family="'Liberation Sans',Arial,sans-serif" font-size="11" font-weight="normal" text-anchor="end" fill="#1a1a1a">1400</text>
<text transform="translate(227.7,458) scale(0.79,1)" font-family="'Liberation Sans',Arial,sans-serif" font-size="11" font-weight="normal" text-anchor="end" fill="#1a1a1a">1600</text>
<text transform="translate(227.7,433.45) scale(0.79,1)" font-family="'Liberation Sans',Arial,sans-serif" font-size="11" font-weight="normal" text-anchor="end" fill="#1a1a1a">1800</text>
<text transform="translate(227.7,408.9) scale(0.79,1)" font-family="'Liberation Sans',Arial,sans-serif" font-size="11" font-weight="normal" text-anchor="end" fill="#1a1a1a">2000</text>
<text transform="translate(375.25,683.2) scale(0.855,1)" font-family="'Liberation Sans',Arial,sans-serif" font-size="11.3" font-weight="normal" text-anchor="middle" fill="#000">Normal Distribution</text>
<text transform="translate(205.4,521) rotate(-90) scale(1.02,1)" font-family="'Liberation Sans',Arial,sans-serif" font-size="10.5" font-weight="bold" text-anchor="middle" fill="#000">Count</text>
<text transform="translate(396.1,711.6)" font-family="'Liberation Serif','Times New Roman',serif" font-size="15.65" font-weight="normal" text-anchor="middle" fill="#111">(c) EHO Feature Extraction</text>
<rect x="341.4" y="396.1" width="65.3" height="34.4" fill="#fff" stroke="#555" stroke-width="1"/>
<rect x="342.9" y="398.3" width="23.7" height="14" fill="#6378FF" stroke="#667" stroke-width="0.6"/>
<rect x="342.9" y="414.1" width="23.7" height="14.6" fill="#FF489E" stroke="#f66" stroke-width="0.6"/>
<text transform="translate(369.7,409.4) scale(0.74,1)" font-family="'Liberation Sans',Arial,sans-serif" font-size="13.3" font-weight="normal" text-anchor="start" fill="#111" letter-spacing="0.8">Normal</text>
<text transform="translate(369.7,426.2) scale(0.74,1)" font-family="'Liberation Sans',Arial,sans-serif" font-size="13.3" font-weight="normal" text-anchor="start" fill="#111" letter-spacing="0.8">Cancer</text>
</svg></body></html>
